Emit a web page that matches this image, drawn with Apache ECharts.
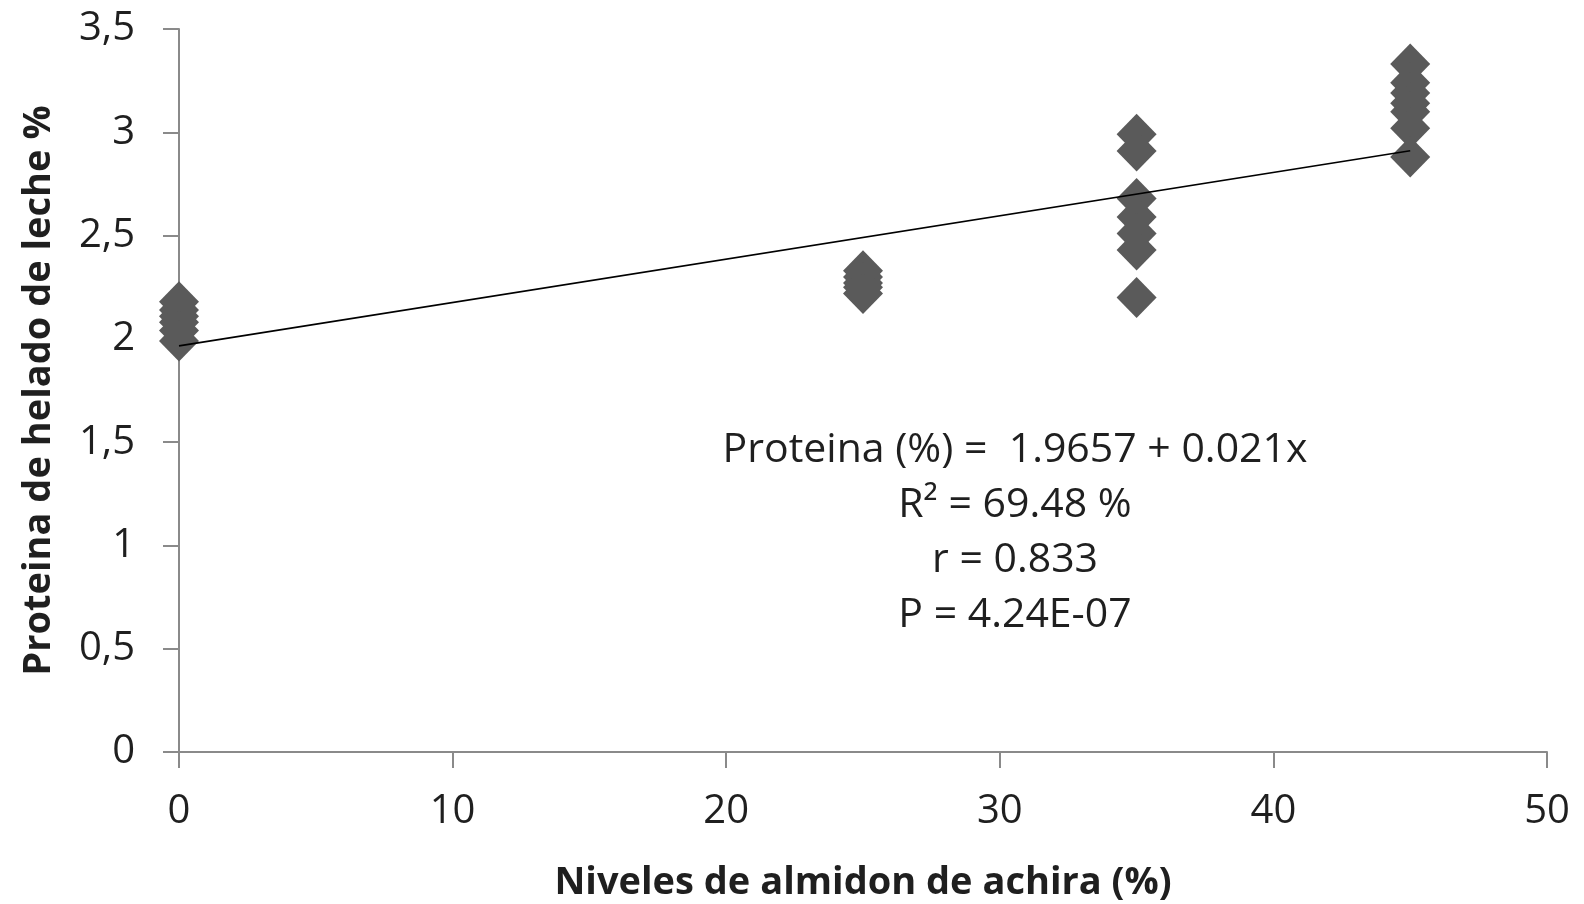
<!DOCTYPE html>
<html>
<head>
<meta charset="utf-8">
<title>Proteina de helado de leche</title>
<script src="https://cdn.jsdelivr.net/npm/echarts@6/dist/echarts.min.js"></script>
<style>
  html, body { margin: 0; padding: 0; background: #ffffff; }
  #chart { width: 1584px; height: 904px; }
</style>
</head>
<body>
<div id="chart"></div>
<script>
// Almidón de achira levels (%) and measured protein (%) per replicate
const nivel0 = [2.18, 2.14, 2.11, 2.08, 2.04, 1.99];
const nivel25 = [2.33, 2.30, 2.27, 2.25, 2.22];
const nivel35 = [2.99, 2.91, 2.68, 2.59, 2.51, 2.43, 2.20];
const nivel45 = [3.33, 3.24, 3.19, 3.14, 3.10, 3.02, 2.88];
const niveles = [0, 25, 35, 45];
const grupos = [nivel0, nivel25, nivel35, nivel45];

// Fitted regression reported in the annotation
const intercepto = 1.9657;
const pendiente = 0.021;
const rangoRecta = [0, 45];

const xTicks = [0, 10, 20, 30, 40, 50];
const yTicks = [0, 0.5, 1, 1.5, 2, 2.5, 3, 3.5];

const anotacion = [
  'Proteina (%) =  1.9657 + 0.021x',
  'R\u00B2 = 69.48 %',
  'r = 0.833',
  'P = 4.24E-07'
];

const puntos = [];
grupos.forEach((g, i) => g.forEach(v => puntos.push([niveles[i], v])));
const recta = rangoRecta.map(x => [x, intercepto + pendiente * x]);

const FONT = '"Open Sans", "DejaVu Sans", sans-serif';
const TEXT = '#1f1f1f';
const AXIS = '#8a8a8a';

const chart = echarts.init(document.getElementById('chart'));
chart.setOption({
  animation: false,
  backgroundColor: '#ffffff',
  grid: { left: 179, right: 37, top: 29, bottom: 152, containLabel: false, outerBoundsMode: 'none' },
  xAxis: {
    type: 'value',
    min: xTicks[0],
    max: xTicks[xTicks.length - 1],
    interval: 10,
    name: 'Niveles de almidon de achira (%)',
    nameLocation: 'middle',
    nameGap: 112,
    nameTextStyle: { fontFamily: FONT, fontSize: 38, fontWeight: 'bold', color: TEXT },
    axisLine: { show: true, lineStyle: { color: AXIS, width: 2 } },
    axisTick: { show: true, length: 16, lineStyle: { color: AXIS, width: 2 } },
    axisLabel: { fontFamily: FONT, fontSize: 40, color: TEXT, margin: 40 },
    splitLine: { show: false }
  },
  yAxis: {
    type: 'value',
    min: yTicks[0],
    max: yTicks[yTicks.length - 1],
    interval: 0.5,
    name: 'Proteina de helado de leche %',
    nameLocation: 'middle',
    nameGap: 121,
    nameTextStyle: { fontFamily: FONT, fontSize: 38, fontWeight: 'bold', color: TEXT },
    axisLine: { show: true, lineStyle: { color: AXIS, width: 2 } },
    axisTick: { show: true, length: 16, lineStyle: { color: AXIS, width: 2 } },
    axisLabel: {
      fontFamily: FONT, fontSize: 40, color: TEXT, margin: 44,
      formatter: v => String(v).replace('.', ',')
    },
    splitLine: { show: false }
  },
  series: [
    {
      type: 'scatter',
      data: puntos,
      symbol: 'diamond',
      symbolSize: [40, 41],
      itemStyle: { color: '#5a5a5a', opacity: 1 },
      z: 2
    },
    {
      type: 'line',
      data: recta,
      symbol: 'none',
      lineStyle: { color: '#000000', width: 1.7 },
      z: 3
    }
  ],
  graphic: anotacion.map((t, i) => ({
    type: 'text',
    x: 1015,
    y: 450 + i * 55,
    style: {
      text: t,
      fontFamily: FONT,
      fontSize: 41,
      fill: TEXT,
      align: 'center',
      verticalAlign: 'middle'
    }
  }))
});
</script>
</body>
</html>
